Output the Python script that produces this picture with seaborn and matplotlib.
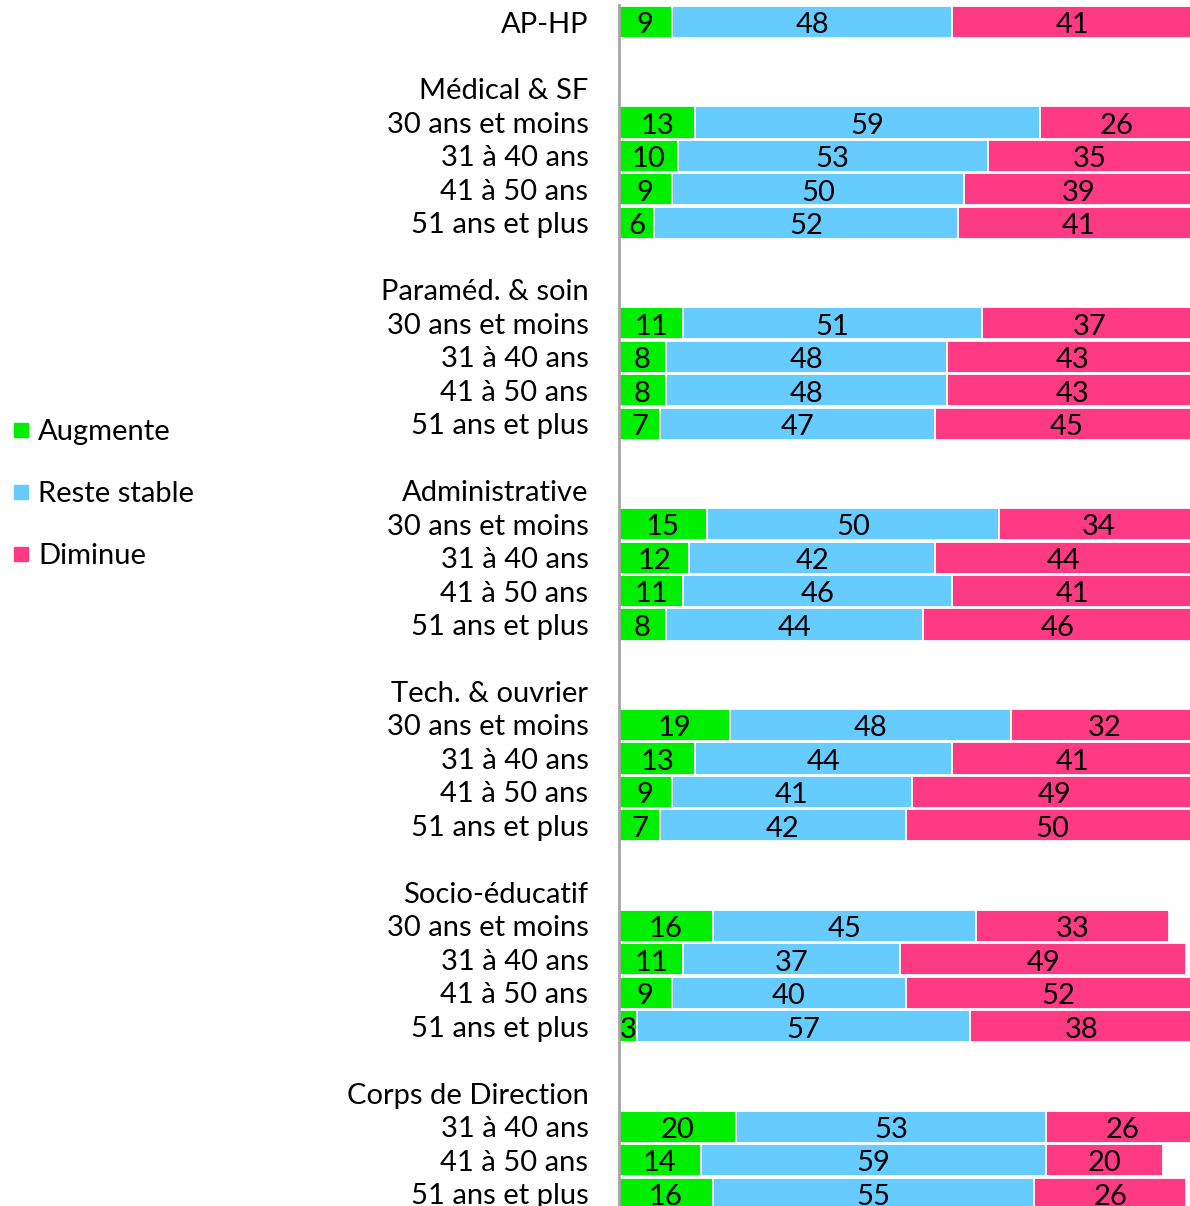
import numpy as np
import pandas as pd
import seaborn as sns
import matplotlib.pyplot as plt
from matplotlib.lines import Line2D

# Données (en %)
groupes = ["Médical & SF", "Paraméd. & soin", "Administrative",
           "Tech. & ouvrier", "Socio-éducatif", "Corps de Direction"]
ages = ["30 ans et moins", "31 à 40 ans", "41 à 50 ans", "51 ans et plus"]
ages_direction = ["31 à 40 ans", "41 à 50 ans", "51 ans et plus"]

augmente = [9, 13, 10, 9, 6, 11, 8, 8, 7, 15, 12, 11, 8, 19, 13, 9, 7,
            16, 11, 9, 3, 20, 14, 16]
reste_stable = [48, 59, 53, 50, 52, 51, 48, 48, 47, 50, 42, 46, 44, 48, 44, 41, 42,
                45, 37, 40, 57, 53, 59, 55]
diminue = [41, 26, 35, 39, 41, 37, 43, 43, 45, 34, 44, 41, 46, 32, 41, 49, 50,
           33, 49, 52, 38, 26, 20, 26]

series = ["Augmente", "Reste stable", "Diminue"]
couleurs = ["#00EE00", "#66CCFF", "#FF3A85"]

# Lignes du graphique : titres de groupe et lignes vides sans barre
libelles = ["AP-HP"]
lignes_barres = [0]
for g in groupes:
    libelles += ["", g]
    for a in (ages_direction if g == "Corps de Direction" else ages):
        lignes_barres.append(len(libelles))
        libelles.append(a)
ordre = [str(i) for i in range(len(libelles))]

df = pd.DataFrame({"ligne": [str(i) for i in lignes_barres],
                   "Augmente": augmente, "Reste stable": reste_stable, "Diminue": diminue})
df["c1"] = df["Augmente"]
df["c2"] = df["c1"] + df["Reste stable"]
df["c3"] = df["c2"] + df["Diminue"]

plt.rcParams["font.family"] = ["Lato", "DejaVu Sans"]
fs = 21

fig = plt.figure(figsize=(11.9, 12.06), dpi=100)
ax = fig.add_axes([619 / 1190, 0, 1 - 619 / 1190, 1 - 5.3 / 1206])

# barres empilées : on dessine les cumuls du plus long au plus court
for col, c in zip(["c3", "c2", "c1"], couleurs[::-1]):
    sns.barplot(data=df, x=col, y="ligne", order=ordre, orient="h", color=c,
                saturation=1, errorbar=None, width=0.96, edgecolor="white",
                linewidth=1.3, ax=ax)

for _, r in df.iterrows():
    y = int(r["ligne"])
    debut = 0
    for s in series:
        v = r[s]
        ax.text(debut + v / 2, y + 0.1, str(v), ha="center", va="center",
                fontsize=fs, color="black")
        debut += v

ax.set_xlim(0, 97.6)
ax.set_ylim(35.37, -0.5)
ax.set_yticks(range(len(libelles)))
ax.set_yticklabels(libelles, fontsize=fs)
ax.tick_params(axis="y", length=0, pad=22)
ax.set_xticks([])
ax.set_xlabel("")
ax.set_ylabel("")
for s in ["top", "right", "bottom"]:
    ax.spines[s].set_visible(False)
ax.spines["left"].set_color("#A6A6A6")
ax.spines["left"].set_linewidth(2)

poignees = [Line2D([], [], marker="s", linestyle="", markersize=10,
                   markerfacecolor=c, markeredgecolor=c) for c in couleurs]
fig.legend(poignees, series, loc="center left", bbox_to_anchor=(0.004, 1 - 494 / 1206),
           frameon=False, fontsize=fs, handlelength=0.6, handletextpad=0.3,
           labelspacing=1.23, borderaxespad=0, borderpad=0.25)

fig.savefig("out.png", dpi=100)
